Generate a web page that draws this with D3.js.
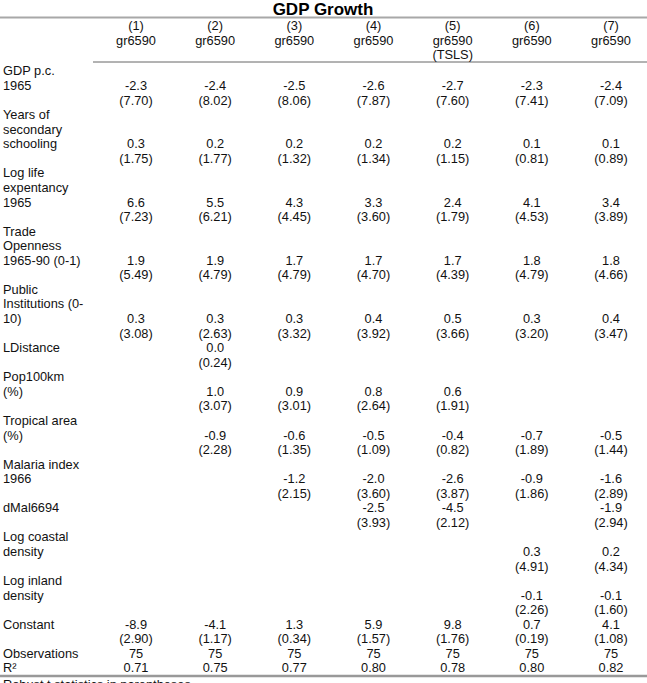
<!DOCTYPE html>
<html>
<head>
<meta charset="utf-8">
<script src="https://cdn.jsdelivr.net/npm/d3@7"></script>
<style>
  html, body { margin: 0; padding: 0; background: #fff; }
  svg { display: block; }
</style>
</head>
<body>
<script>
// ---- data ----
const title = "GDP Growth";
const columns = ["(1)", "(2)", "(3)", "(4)", "(5)", "(6)", "(7)"];
const depVars = ["gr6590", "gr6590", "gr6590", "gr6590", "gr6590", "gr6590", "gr6590"];
const colNotes = ["", "", "", "", "(TSLS)", "", ""];
const variables = [
  ["GDP p.c.", "1965"],
  ["Years of", "secondary", "schooling"],
  ["Log life", "expentancy", "1965"],
  ["Trade", "Openness", "1965-90 (0-1)"],
  ["Public", "Institutions (0-", "10)"],
  ["LDistance"],
  ["Pop100km", "(%)"],
  ["Tropical area", "(%)"],
  ["Malaria index", "1966"],
  ["dMal6694"],
  ["Log coastal", "density"],
  ["Log inland", "density"],
  ["Constant"]
];
const coefs = [
  [-2.3, -2.4, -2.5, -2.6, -2.7, -2.3, -2.4],
  [0.3, 0.2, 0.2, 0.2, 0.2, 0.1, 0.1],
  [6.6, 5.5, 4.3, 3.3, 2.4, 4.1, 3.4],
  [1.9, 1.9, 1.7, 1.7, 1.7, 1.8, 1.8],
  [0.3, 0.3, 0.3, 0.4, 0.5, 0.3, 0.4],
  [null, 0.0, null, null, null, null, null],
  [null, 1.0, 0.9, 0.8, 0.6, null, null],
  [null, -0.9, -0.6, -0.5, -0.4, -0.7, -0.5],
  [null, null, -1.2, -2.0, -2.6, -0.9, -1.6],
  [null, null, null, -2.5, -4.5, null, -1.9],
  [null, null, null, null, null, 0.3, 0.2],
  [null, null, null, null, null, -0.1, -0.1],
  [-8.9, -4.1, 1.3, 5.9, 9.8, 0.7, 4.1]
];
const tstats = [
  [7.70, 8.02, 8.06, 7.87, 7.60, 7.41, 7.09],
  [1.75, 1.77, 1.32, 1.34, 1.15, 0.81, 0.89],
  [7.23, 6.21, 4.45, 3.60, 1.79, 4.53, 3.89],
  [5.49, 4.79, 4.79, 4.70, 4.39, 4.79, 4.66],
  [3.08, 2.63, 3.32, 3.92, 3.66, 3.20, 3.47],
  [null, 0.24, null, null, null, null, null],
  [null, 3.07, 3.01, 2.64, 1.91, null, null],
  [null, 2.28, 1.35, 1.09, 0.82, 1.89, 1.44],
  [null, null, 2.15, 3.60, 3.87, 1.86, 2.89],
  [null, null, null, 3.93, 2.12, null, 2.94],
  [null, null, null, null, null, 4.91, 4.34],
  [null, null, null, null, null, 2.26, 1.60],
  [2.90, 1.17, 0.34, 1.57, 1.76, 0.19, 1.08]
];
const observations = [75, 75, 75, 75, 75, 75, 75];
const rSquared = [0.71, 0.75, 0.77, 0.80, 0.78, 0.80, 0.82];
const footnote = "Robust t statistics in parentheses";

// ---- layout ----
const W = 647, H = 683;
const font = "'Liberation Sans', Arial, sans-serif";
const fs = 12.8;

const svg = d3.select("body").append("svg")
  .attr("width", W).attr("height", H)
  .style("font-family", font);

const x = d3.scalePoint().domain(columns).range([136, 611]);
const totalLines = d3.sum(variables, v => v.length + 1) + 2;
const y = d3.scaleLinear().domain([1, totalLines]).range([71, 668]);
const yHead = d3.scaleLinear().domain([0, 2]).range([25.5, 55]);

const fmt1 = v => v.toFixed(1);
const fmt2 = v => "(" + v.toFixed(2) + ")";

// title
svg.append("text")
  .attr("x", 323).attr("y", 9.5).attr("dy", "0.35em")
  .attr("text-anchor", "middle")
  .style("font-weight", "bold").style("font-size", "17px")
  .text(title);

// rules
svg.append("line").attr("x1", 0).attr("x2", W).attr("y1", 17.5).attr("y2", 17.5)
  .attr("stroke", "#a8a8a8").attr("stroke-width", 2);
svg.append("line").attr("x1", 93).attr("x2", W).attr("y1", 62).attr("y2", 62)
  .attr("stroke", "#666").attr("stroke-width", 1);
svg.append("line").attr("x1", 0).attr("x2", W).attr("y1", 676).attr("y2", 676)
  .attr("stroke", "#999").attr("stroke-width", 2.5);

const g = svg.append("g").style("font-size", fs + "px").attr("fill", "#111");

// header
columns.forEach((c, i) => {
  const lines = [c, depVars[i], colNotes[i]].filter(s => s);
  lines.forEach((t, k) => {
    g.append("text").attr("x", x(c)).attr("y", yHead(k)).attr("dy", "0.35em")
      .attr("text-anchor", "middle").text(t);
  });
});

// body
let line = 1;
variables.forEach((labelLines, r) => {
  labelLines.forEach((t, k) => {
    g.append("text").attr("x", 3).attr("y", y(line + k)).attr("dy", "0.35em").text(t);
  });
  const coefLine = line + labelLines.length - 1;
  columns.forEach((c, i) => {
    const cv = coefs[r][i], tv = tstats[r][i];
    if (cv !== null) {
      g.append("text").attr("x", x(c)).attr("y", y(coefLine)).attr("dy", "0.35em")
        .attr("text-anchor", "middle").text(fmt1(cv));
    }
    if (tv !== null) {
      g.append("text").attr("x", x(c)).attr("y", y(coefLine + 1)).attr("dy", "0.35em")
        .attr("text-anchor", "middle").text(fmt2(tv));
    }
  });
  line += labelLines.length + 1;
});

// observations and R²
g.append("text").attr("x", 3).attr("y", y(line)).attr("dy", "0.35em").text("Observations");
g.append("text").attr("x", 3).attr("y", y(line + 1)).attr("dy", "0.35em").text("R²");
columns.forEach((c, i) => {
  g.append("text").attr("x", x(c)).attr("y", y(line)).attr("dy", "0.35em")
    .attr("text-anchor", "middle").text(observations[i]);
  g.append("text").attr("x", x(c)).attr("y", y(line + 1)).attr("dy", "0.35em")
    .attr("text-anchor", "middle").text(rSquared[i].toFixed(2));
});

// footnote (cut off at bottom edge, as in the reference)
g.append("text").attr("x", 3).attr("y", 684.5).attr("dy", "0.35em").text(footnote);
</script>
</body>
</html>
